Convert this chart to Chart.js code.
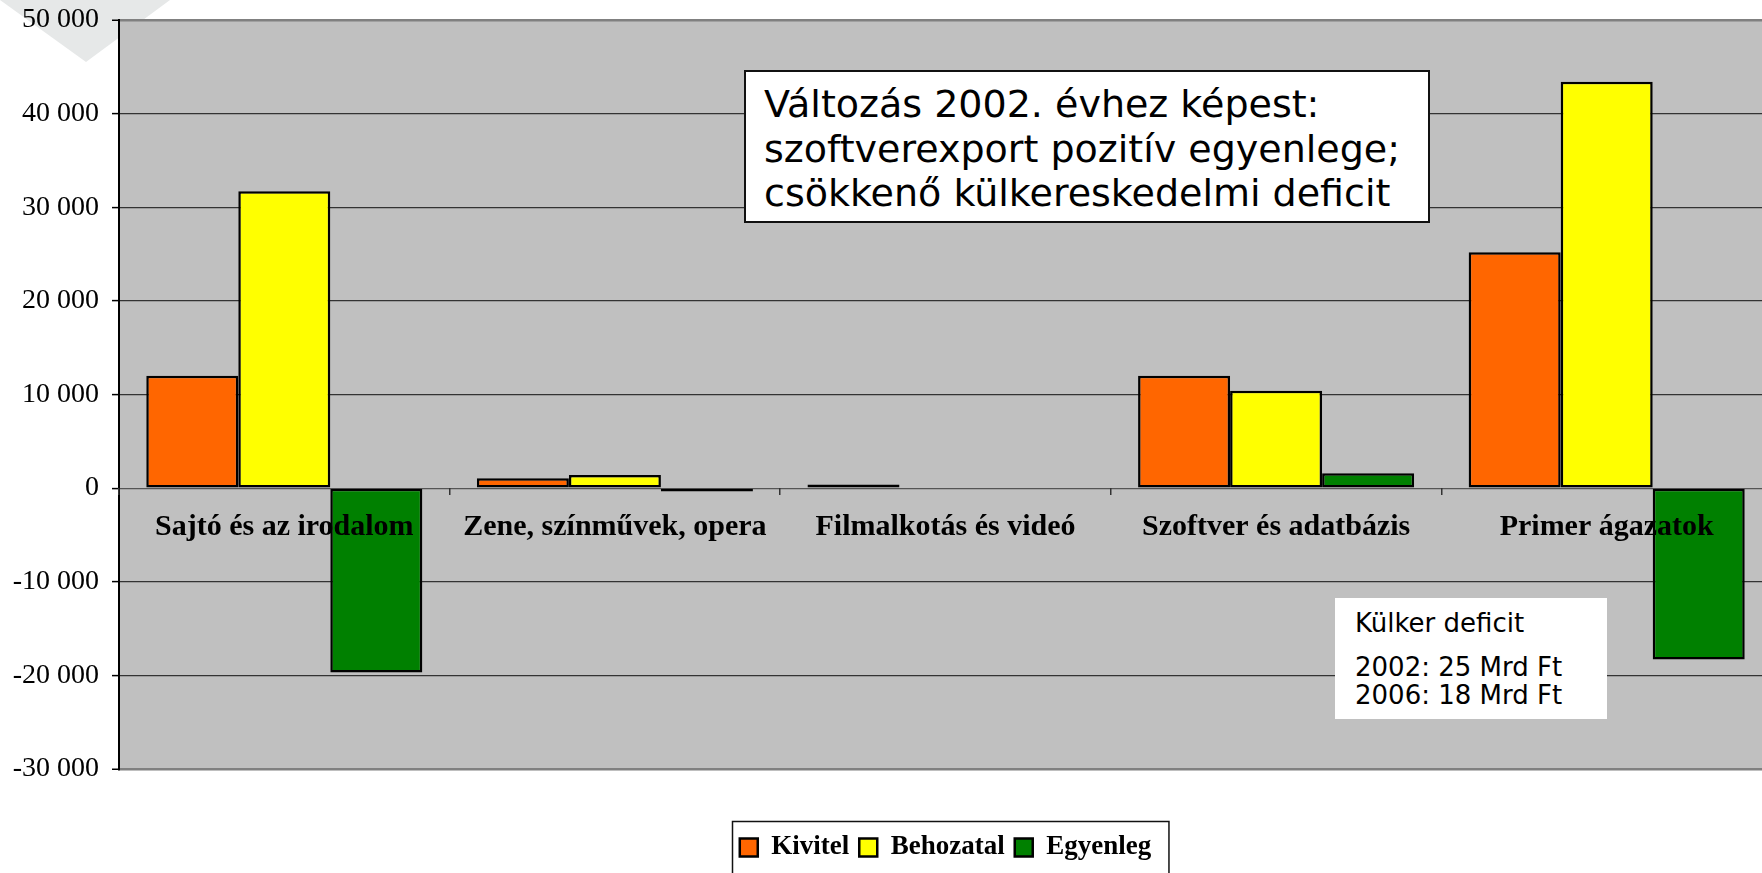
<!DOCTYPE html>
<html>
<head>
<meta charset="utf-8">
<script src="https://cdn.jsdelivr.net/npm/chart.js@4"></script>
<style>
html,body{margin:0;padding:0;overflow:hidden;background:#fff;width:1762px;height:873px;}
#wrap{position:relative;width:1772px;height:882px;}
#wm{position:absolute;left:0;top:0;width:180px;height:70px;background:#e6e8e8;clip-path:polygon(0 0,170px 0,86px 62px);}
canvas{position:absolute;left:0;top:0;}
.note{position:absolute;font-family:"DejaVu Sans";color:#000;background:#fff;box-sizing:border-box;white-space:nowrap;}
#n1{left:744px;top:70px;width:686px;height:153px;border:2px solid #111;font-size:38px;line-height:44.5px;padding:10px 0 0 18px;}
#n2{left:1335px;top:598px;width:272px;height:121px;font-size:26px;line-height:28px;padding:11px 0 0 20px;}
#n2 .h{margin-bottom:16px;}
</style>
</head>
<body>
<div id="wrap">
  <div id="wm"></div>
  <canvas id="c" width="1772" height="882"></canvas>
  <div class="note" id="n1"></div>
  <div class="note" id="n2"></div>
</div>
<script>
// ---- data ----
const categories = ["Sajtó és az irodalom", "Zene, színművek, opera", "Filmalkotás és videó", "Szoftver és adatbázis", "Primer ágazatok"];
const seriesNames = ["Kivitel", "Behozatal", "Egyenleg"];
const kivitel   = [12000, 1050, 400, 12000, 25200];
const behozatal = [31700, 1400, 0, 10400, 43400];
const egyenleg  = [-19700, -350, 0, 1600, -18300];
const yMin = -30000, yMax = 50000, yStep = 10000;
const noteMainLines = ["Változás 2002. évhez képest:", "szoftverexport pozitív egyenlege;", "csökkenő külkereskedelmi deficit"];
const noteDeficitTitle = "Külker deficit";
const noteDeficitLines = ["2002: 25 Mrd Ft", "2006: 18 Mrd Ft"];

// ---- notes ----
document.getElementById('n1').innerHTML = noteMainLines.map(s => '<div>' + s + '</div>').join('');
document.getElementById('n2').innerHTML = '<div class="h">' + noteDeficitTitle + '</div>' + noteDeficitLines.map(s => '<div>' + s + '</div>').join('');

const fmt = v => (v < 0 ? '-' : '') + Math.abs(v).toString().replace(/\B(?=(\d{3})+(?!\d))/g, ' ');

const bgPlugin = {
  id: 'plotBg',
  beforeDraw(chart) {
    const {ctx, chartArea: a} = chart;
    ctx.save();
    ctx.fillStyle = '#C0C0C0';
    ctx.fillRect(a.left, a.top, a.right - a.left, a.bottom - a.top);
    ctx.restore();
  },
  afterDraw(chart) {
    const lg = chart.legend;
    if (!lg || !lg.legendHitBoxes || !lg.legendHitBoxes.length) return;
    const hb = lg.legendHitBoxes;
    const last = hb[hb.length - 1];
    const l = hb[0].left - 8, r = last.left + last.width + 17, t = hb[0].top - 13;
    const ctx = chart.ctx;
    ctx.save();
    ctx.strokeStyle = '#111';
    ctx.lineWidth = 1.5;
    ctx.strokeRect(Math.round(l) + 0.5, Math.round(t) + 0.5, r - l, 200);
    ctx.restore();
  }
};

const colors = ['#FF6600', '#FFFF00', '#008000'];
const values = [kivitel, behozatal, egyenleg];

new Chart(document.getElementById('c'), {
  type: 'bar',
  data: {
    labels: categories,
    datasets: seriesNames.map((n, i) => ({
      label: n,
      data: values[i],
      backgroundColor: colors[i],
      borderColor: '#000',
      borderWidth: 2.5,
      borderSkipped: false,
      categoryPercentage: 0.835,
      barPercentage: 1.0,
      xAxisID: 'x',
      yAxisID: 'y'
    }))
  },
  options: {
    responsive: false,
    animation: false,
    devicePixelRatio: 1,
    layout: {padding: {top: 20, left: 0, right: 0, bottom: 11}},
    plugins: {
      tooltip: {enabled: false},
      legend: {
        position: 'bottom',
        fullSize: false,
        labels: {
          font: {family: 'Liberation Serif', size: 27, weight: 'bold'},
          color: '#000',
          boxWidth: 18,
          boxHeight: 18,
          padding: 10
        }
      }
    },
    scales: {
      x: {
        type: 'category',
        position: {y: 0},
        offset: true,
        grid: {display: true, drawOnChartArea: false, drawTicks: true, tickLength: 7, offset: true, color: '#333', lineWidth: 1.5, z: 1},
        border: {display: false},
        ticks: {
          z: 2,
          font: {family: 'Liberation Serif', size: 30, weight: 'bold'},
          color: '#000',
          padding: 14,
          maxRotation: 0,
          autoSkip: false
        }
      },
      x2: {
        type: 'category',
        position: 'bottom',
        display: true,
        grid: {display: false},
        border: {display: false},
        ticks: {display: false},
        afterFit: s => { s.height = 55; }
      },
      y: {
        min: yMin,
        max: yMax,
        afterFit: s => { s.width = 119; s.paddingTop = 0; s.paddingBottom = 0; },
        border: {display: true, color: '#000', width: 2},
        grid: {
          color: c => (c.tick && (c.tick.value === yMax || c.tick.value === yMin)) ? '#808080' : (c.tick && c.tick.value === 0 ? '#555' : '#333'),
          lineWidth: c => (c.tick && (c.tick.value === yMax || c.tick.value === yMin)) ? 2.5 : 1.2,
          tickColor: '#000',
          tickLength: 7,
          tickWidth: 1.5
        },
        ticks: {
          stepSize: yStep,
          font: {family: 'Liberation Serif', size: 28},
          color: '#000',
          padding: 13,
          callback: v => fmt(v)
        }
      }
    }
  },
  plugins: [bgPlugin]
});
</script>
</body>
</html>
